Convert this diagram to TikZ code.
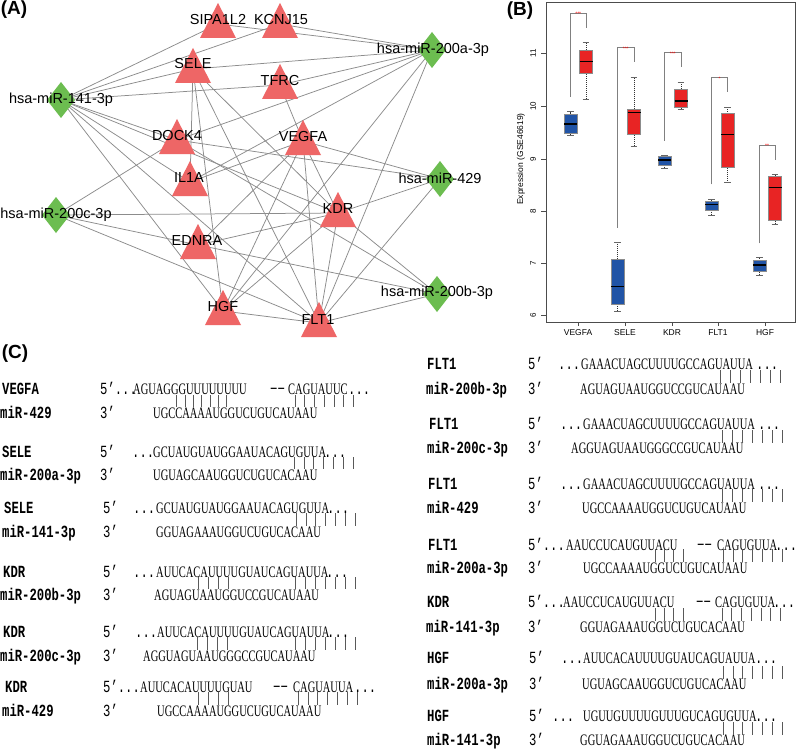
\documentclass[tikz,border=0pt]{standalone}
\usepackage{fontspec}
\setmainfont{Liberation Sans}
\newfontfamily\seqfont[FakeStretch=0.655]{Liberation Serif}
\newfontfamily\labfont[FakeStretch=0.72]{Liberation Mono}
\definecolor{trired}{RGB}{238,102,102}
\definecolor{diagreen}{RGB}{108,189,80}
\definecolor{edgegray}{RGB}{140,140,140}
\definecolor{boxblue}{RGB}{33,84,166}
\definecolor{boxred}{RGB}{232,36,36}
\newcommand\mytri[1]{\fill[trired] (#1) ++(0,-21) -- ++(18,35) -- ++(-36,0) -- cycle;}
\newcommand\mydia[1]{\fill[diagreen] (#1) ++(0,-18) -- ++(14,18) -- ++(-14,18) -- ++(-14,-18) -- cycle;}
% box: cx, color, wl, q1, med, q3, wh
\newcommand\mybox[7]{%
  \draw[black!80, dash pattern=on 1pt off 1pt, line width=0.5pt] (#1,#3) -- (#1,#4) (#1,#6) -- (#1,#7);
  \draw[black!60, line width=0.5pt] (#1-3.3,#3) -- (#1+3.3,#3) (#1-3.3,#7) -- (#1+3.3,#7);
  \filldraw[fill=#2, draw=black!45, line width=0.5pt] (#1-6.5,#4) rectangle (#1+6.5,#6);
  \draw[black, line width=1.3pt] (#1-6.5,#5) -- (#1+6.5,#5);}
% bracket: xl, yl, xr, yr, top, stars
\newcommand\mybrk[6]{%
  \draw[black!50, line width=0.6pt] (#1,#2) -- (#1,#5) -- (#3,#5) -- (#3,#4);
  \node[inner sep=0, text=red, font=\fontsize{5}{5}\selectfont] at ({(#1+#3)/2},#5+0.8) {#6};}
\tikzset{
  edge/.style={draw=edgegray, line width=0.75pt},
  netlab/.style={font=\fontsize{14.5}{14.5}\selectfont, inner sep=0},
  seq/.style={font=\seqfont\fontsize{16}{16}\selectfont, anchor=west, inner sep=0, text height=10.5pt, text depth=0pt},
  lab/.style={font=\labfont\bfseries\fontsize{17}{17}\selectfont, anchor=west, inner sep=0, text height=10pt, text depth=0pt},
  mlab/.style={font=\labfont\fontsize{17}{17}\selectfont, anchor=west, inner sep=0, text height=10pt, text depth=0pt},
  bar/.style={draw=black!65, line width=0.6pt},
  panel/.style={font=\bfseries\fontsize{19}{19}\selectfont, inner sep=0},
  tick/.style={font=\fontsize{8}{8}\selectfont, inner sep=0},
}
\newcommand\bars[5]{% x0, step, n, ytop, ybot
  \foreach \i in {1,...,#3} {\draw[bar] ({#1+(\i-1)*#2},#4) -- ({#1+(\i-1)*#2},#5);}}
\begin{document}
\begin{tikzpicture}[x=1pt,y=-1pt]
\useasboundingbox (0,0) rectangle (800,749);
\fill[white] (0,0) rectangle (800,749);

% ---------------- Panel A ----------------
\node[panel] (pA) at (14,10) {(A)};
\coordinate (SIPA) at (218,24);
\coordinate (KCNJ) at (280,24);
\coordinate (SELE) at (193,69);
\coordinate (TFRC) at (280,85);
\coordinate (DOCK) at (177,140);
\coordinate (VEGFA) at (303,141);
\coordinate (ILA) at (190,182);
\coordinate (KDR) at (338,213);
\coordinate (EDNRA) at (198,245);
\coordinate (HGF) at (223,311);
\coordinate (FLT) at (319,323);
\coordinate (m200a) at (432,50);
\coordinate (m141) at (61,100);
\coordinate (m429) at (440,179);
\coordinate (m200c) at (56,215);
\coordinate (m200b) at (437,294);

\foreach \a/\b in {m141/SIPA,m141/KCNJ,m141/SELE,m141/TFRC,m141/DOCK,m141/ILA,m141/KDR,m141/HGF,m141/FLT,
  m200a/SIPA,m200a/KCNJ,m200a/SELE,m200a/TFRC,m200a/DOCK,m200a/ILA,m200a/HGF,m200a/FLT,
  m429/DOCK,m429/VEGFA,m429/KDR,m429/FLT,
  m200c/DOCK,m200c/KDR,m200c/EDNRA,m200c/FLT,
  m200b/DOCK,m200b/EDNRA,m200b/KDR,m200b/FLT,
  SELE/ILA,SELE/HGF,SELE/FLT,SELE/KDR,TFRC/VEGFA,
  VEGFA/KDR,VEGFA/FLT,VEGFA/HGF,VEGFA/ILA,VEGFA/EDNRA,
  KDR/FLT,KDR/HGF,KDR/EDNRA,HGF/FLT}
  {\draw[edge] (\a) -- (\b);}

\foreach \n in {SIPA,KCNJ,SELE,TFRC,DOCK,VEGFA,ILA,KDR,EDNRA,HGF,FLT} {\mytri{\n}}
\foreach \n in {m200a,m141,m429,m200c,m200b} {\mydia{\n}}

\node[netlab] (lSIPA) at (218,20) {SIPA1L2};
\node[netlab] (lKCNJ) at (281,20) {KCNJ15};
\node[netlab] (lSELE) at (193,64) {SELE};
\node[netlab] (lTFRC) at (280,81) {TFRC};
\node[netlab] (lDOCK) at (177,136) {DOCK4};
\node[netlab] (lVEGFA) at (303,137) {VEGFA};
\node[netlab] (lILA) at (189,178) {IL1A};
\node[netlab] (lKDR) at (338,209) {KDR};
\node[netlab] (lEDNRA) at (197,241) {EDNRA};
\node[netlab] (lHGF) at (223,307) {HGF};
\node[netlab] (lFLT) at (318,320) {FLT1};
\node[netlab] (l200a) at (433,50) {hsa-miR-200a-3p};
\node[netlab] (l141) at (61,100) {hsa-miR-141-3p};
\node[netlab] (l429) at (440,178) {hsa-miR-429};
\node[netlab] (l200c) at (56,215) {hsa-miR-200c-3p};
\node[netlab] (l200b) at (437,293) {hsa-miR-200b-3p};

% ---------------- Panel B ----------------
\node[panel] (pB) at (520,11) {(B)};
\draw[black!70, line width=0.5pt] (546,2) rectangle (795,322);
\foreach \v/\y in {6/315,7/263,8/211,9/159,10/106,11/53} {
  \draw[black!70, line width=0.5pt] (546,\y) -- (541,\y);
  \node[tick, rotate=90] (yt\v) at (533,\y) {\v};
}
\node[inner sep=0, rotate=90, font=\fontsize{8.5}{8.5}\selectfont] (ylab) at (521,159) {Expression (GSE46619)};
\foreach \x/\t in {578/VEGFA,625/SELE,672/KDR,718/FLT1,765/HGF} {
  \draw[black!70, line width=0.5pt] (\x,322) -- (\x,326);
  \node[inner sep=0, font=\fontsize{8.5}{8.5}\selectfont] (xt\t) at (\x,333) {\t};
}
\mybrk{570.5}{96.7}{586}{28.3}{13.3}{***}
\mybrk{617.5}{227.7}{634}{62.3}{47.7}{***}
\mybrk{664.5}{140.7}{681}{67.3}{52.7}{***}
\mybrk{711.5}{184.3}{727.5}{92.3}{77.7}{*}
\mybrk{759.3}{243.3}{775}{160}{145}{**}

\mybox{570.5}{boxblue}{135}{133.3}{124}{114.3}{111.7}
\mybox{586}{boxred}{99}{73.3}{61.7}{50}{42.7}
\mybox{617.5}{boxblue}{311}{304.3}{286.7}{259}{242.3}
\mybox{634}{boxred}{146}{134.3}{112.7}{109.3}{77.3}
\mybox{664.5}{boxblue}{168.3}{165}{160}{156.7}{155.3}
\mybox{681}{boxred}{109.3}{107.3}{101}{89}{82.3}
\mybox{711.5}{boxblue}{215.3}{210}{204.3}{201.3}{199}
\mybox{727.5}{boxred}{182.7}{167.7}{134.3}{113.7}{107.7}
\mybox{759.3}{boxblue}{275}{271.3}{265}{260.7}{257.7}
\mybox{775}{boxred}{224.3}{220.7}{187.7}{176}{174}

% ---------------- Panel C ----------------
\node[panel] (pC) at (15,354) {(C)};

% L1 VEGFA / miR-429
\node[lab] (g1) at (2,389) {VEGFA};
\node[lab] (r1) at (0,413) {miR-429};
\node[mlab] (f1) at (100,389) {5’...};
\node[seq] (s1a) at (133,389) {AGUAGGGUUUUUUUU};
\node[mlab] (s1b) at (270,389) {−−};
\node[seq] (s1c) at (288,389) {CAGUAUUC};
\node[mlab] (s1d) at (348,389) {...};
\node[mlab] (t1) at (100,413) {3’};
\node[seq] (b1) at (153,413) {UGCCAAAAUGGUCUGUCAUAAU};
\bars{176.7}{8.3}{7}{395}{407}
\bars{295}{9.7}{7}{395}{407}

% L2 SELE / miR-200a-3p
\node[lab] (g2) at (2,452) {SELE};
\node[lab] (r2) at (0,475) {miR-200a-3p};
\node[mlab] (f2) at (100,452) {5’};
\node[mlab] (d2) at (132,452) {...};
\node[seq] (s2) at (153,452) {GCUAUGUAUGGAAUACAGUGUUA};
\node[mlab] (e2) at (324,452) {...};
\node[mlab] (t2) at (100,475) {3’};
\node[seq] (b2) at (153,475) {UGUAGCAAUGGUCUGUCACAAU};
\bars{294}{9.8}{7}{457}{469}

% L3 SELE / miR-141-3p
\node[lab] (g3) at (4,508) {SELE};
\node[lab] (r3) at (2,532) {miR-141-3p};
\node[mlab] (f3) at (103,508) {5’};
\node[mlab] (d3) at (133,508) {...};
\node[seq] (s3) at (156,508) {GCUAUGUAUGGAAUACAGUGUUA};
\node[mlab] (e3) at (327,508) {...};
\node[mlab] (t3) at (103,532) {3’};
\node[seq] (b3) at (156,532) {GGUAGAAAUGGUCUGUCACAAU};
\bars{296}{9.8}{7}{513}{526}

% L4 KDR / miR-200b-3p
\node[lab] (g4) at (3,572) {KDR};
\node[lab] (r4) at (0,595) {miR-200b-3p};
\node[mlab] (f4) at (103,572) {5’};
\node[mlab] (d4) at (133,572) {...};
\node[seq] (s4) at (156,572) {AUUCACAUUUUGUAUCAGUAUUA};
\node[mlab] (e4) at (326,572) {...};
\node[mlab] (t4) at (103,595) {3’};
\node[seq] (b4) at (154,595) {AGUAGUAAUGGUCCGUCAUAAU};
\bars{198}{10}{4}{577}{589}
\bars{295}{10}{7}{577}{589}

% L5 KDR / miR-200c-3p
\node[lab] (g5) at (3,632) {KDR};
\node[lab] (r5) at (0,656) {miR-200c-3p};
\node[mlab] (f5) at (103,632) {5’};
\node[mlab] (d5) at (135,632) {...};
\node[seq] (s5) at (157,632) {AUUCACAUUUUGUAUCAGUAUUA};
\node[mlab] (e5) at (327,632) {...};
\node[mlab] (t5) at (103,656) {3’};
\node[seq] (b5) at (143,656) {AGGUAGUAAUGGGCCGUCAUAAU};
\bars{197}{10}{4}{637}{650}
\bars{295}{10}{7}{637}{650}

% L6 KDR / miR-429
\node[lab] (g6) at (5,687) {KDR};
\node[lab] (r6) at (2,711) {miR-429};
\node[mlab] (f6) at (103,687) {5’...};
\node[seq] (s6a) at (140,687) {AUUCACAUUUUGUAU};
\node[mlab] (s6b) at (273,687) {−−};
\node[seq] (s6c) at (293,687) {CAGUAUUA};
\node[mlab] (s6d) at (354,687) {...};
\node[mlab] (t6) at (103,711) {3’};
\node[seq] (b6) at (157,711) {UGCCAAAAUGGUCUGUCAUAAU};
\bars{198}{10}{4}{692}{705}
\bars{298}{9.8}{7}{692}{705}

% R1 FLT1 / miR-200b-3p
\node[lab] (g7) at (427,364) {FLT1};
\node[lab] (r7) at (426,389) {miR-200b-3p};
\node[mlab] (f7) at (528,364) {5’};
\node[mlab] (d7) at (558,364) {...};
\node[seq] (s7) at (581,364) {GAAACUAGCUUUUGCCAGUAUUA};
\node[mlab] (e7) at (756,364) {...};
\node[mlab] (t7) at (528,389) {3’};
\node[seq] (b7) at (580,389) {AGUAGUAAUGGUCCGUCAUAAU};
\bars{720}{10}{7}{370}{383}

% R2 FLT1 / miR-200c-3p
\node[lab] (g8) at (429,424) {FLT1};
\node[lab] (r8) at (427,448) {miR-200c-3p};
\node[mlab] (f8) at (528,424) {5’};
\node[mlab] (d8) at (560,424) {...};
\node[seq] (s8) at (583,424) {GAAACUAGCUUUUGCCAGUAUUA};
\node[mlab] (e8) at (758,424) {...};
\node[mlab] (t8) at (528,448) {3’};
\node[seq] (b8) at (571,448) {AGGUAGUAAUGGGCCGUCAUAAU};
\bars{722}{10}{7}{430}{443}

% R3 FLT1 / miR-429
\node[lab] (g9) at (428,484) {FLT1};
\node[lab] (r9) at (427,508) {miR-429};
\node[mlab] (f9) at (528,484) {5’};
\node[mlab] (d9) at (560,484) {...};
\node[seq] (s9) at (583,484) {GAAACUAGCUUUUGCCAGUAUUA};
\node[mlab] (e9) at (758,484) {...};
\node[mlab] (t9) at (528,508) {3’};
\node[seq] (b9) at (582,508) {UGCCAAAAUGGUCUGUCAUAAU};
\bars{722}{10}{7}{489}{502}

% R4 FLT1 / miR-200a-3p
\node[lab] (g10) at (428,545) {FLT1};
\node[lab] (r10) at (427,568) {miR-200a-3p};
\node[mlab] (f10) at (528,545) {5’...};
\node[seq] (s10a) at (566,545) {AAUCCUCAUGUUACU};
\node[mlab] (s10b) at (697,545) {−−};
\node[seq] (s10c) at (717,545) {CAGUGUUA};
\node[mlab] (s10d) at (775,545) {...};
\node[mlab] (t10) at (528,568) {3’};
\node[seq] (b10) at (583,568) {UGCCAAAAUGGUCUGUCAUAAU};
\bars{655}{9.3}{4}{549}{562}
\bars{723}{9.8}{7}{549}{562}

% R5 KDR / miR-141-3p
\node[lab] (g11) at (427,602) {KDR};
\node[lab] (r11) at (426,627) {miR-141-3p};
\node[mlab] (f11) at (528,602) {5’...};
\node[seq] (s11a) at (563,602) {AAUCCUCAUGUUACU};
\node[mlab] (s11b) at (696,602) {−−};
\node[seq] (s11c) at (715,602) {CAGUGUUA};
\node[mlab] (s11d) at (773,602) {...};
\node[mlab] (t11) at (528,627) {3’};
\node[seq] (b11) at (580,627) {GGUAGAAAUGGUCUGUCACAAU};
\bars{655}{9.3}{4}{608}{621}
\bars{722}{9.7}{7}{608}{621}

% R6 HGF / miR-200a-3p
\node[lab] (g12) at (427,658) {HGF};
\node[lab] (r12) at (427,684) {miR-200a-3p};
\node[mlab] (f12) at (529,658) {5’};
\node[mlab] (d12) at (561,658) {...};
\node[seq] (s12) at (583,658) {AUUCACAUUUUGUAUCAGUAUUA};
\node[mlab] (e12) at (755,658) {...};
\node[mlab] (t12) at (529,684) {3’};
\node[seq] (b12) at (582,684) {UGUAGCAAUGGUCUGUCACAAU};
\bars{723}{9.8}{7}{666}{679}

% R7 HGF / miR-141-3p
\node[lab] (g13) at (427,716) {HGF};
\node[lab] (r13) at (427,740) {miR-141-3p};
\node[mlab] (f13) at (529,716) {5’};
\node[mlab] (d13) at (552,716) {...};
\node[seq] (s13) at (583,716) {UGUUGUUUUGUUUGUCAGUGUUA};
\node[mlab] (e13) at (755,716) {...};
\node[mlab] (t13) at (529,740) {3’};
\node[seq] (b13) at (580,740) {GGUAGAAAUGGUCUGUCACAAU};
\bars{723}{9.8}{7}{722}{735}
\end{tikzpicture}
\end{document}
